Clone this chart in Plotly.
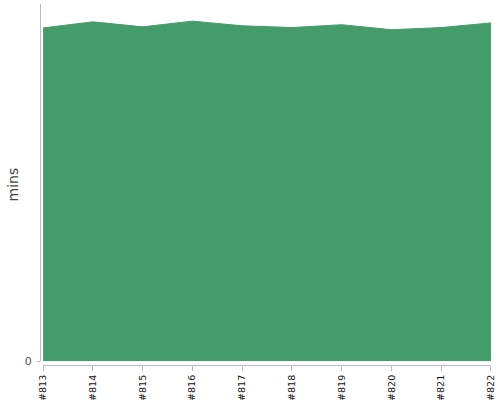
import plotly.graph_objects as go

# builds shown on the x axis
builds = ["#813", "#814", "#815", "#816", "#817", "#818", "#819", "#820", "#821", "#822"]
# duration in minutes for each build
mins = [93.3, 95.0, 93.6, 95.2, 93.9, 93.4, 94.2, 92.8, 93.4, 94.7]

fig = go.Figure()
fig.add_trace(go.Scatter(
    x=builds,
    y=mins,
    mode="lines",
    fill="tozeroy",
    fillcolor="#449c6b",
    line=dict(color="#449c6b", width=1),
    hoverinfo="x+y",
))

fig.update_layout(
    width=500,
    height=400,
    margin=dict(l=40, r=9, t=4, b=35, autoexpand=False),
    plot_bgcolor="white",
    paper_bgcolor="white",
    showlegend=False,
    font=dict(family="DejaVu Sans", color="#444"),
    xaxis=dict(
        domain=[0.0067, 1],
        anchor="free",
        position=0,
        range=[-0.001, len(builds) - 1 + 0.001],
        automargin=False,
        showgrid=False,
        zeroline=False,
        showline=True,
        linecolor="#bbb",
        linewidth=1,
        ticks="outside",
        ticklen=5,
        tickcolor="#bbb",
        tickangle=-90,
        tickfont=dict(size=9.5, color="#111"),
    ),
    yaxis=dict(
        domain=[0.011, 1],
        anchor="free",
        position=0,
        range=[0, 100],
        automargin=False,
        showgrid=False,
        zeroline=False,
        showline=True,
        linecolor="#bbb",
        linewidth=1,
        ticks="outside",
        ticklen=3,
        tickcolor="#bbb",
        tickvals=[0],
        ticklabelstandoff=3,
        tickfont=dict(size=11, color="#555"),
    ),
)

# y axis title placed by hand
fig.add_annotation(
    text="mins", textangle=-90,
    xref="paper", yref="paper", x=-0.06, y=0.5,
    xanchor="center", yanchor="middle", showarrow=False,
    font=dict(size=14, color="#444"),
)

# drop the default page margin so the chart sits at the window's corner
fig.write_html(
    "out.html",
    config={"displayModeBar": False},
    post_script="document.body.style.margin='0';document.body.style.overflow='hidden';",
)
